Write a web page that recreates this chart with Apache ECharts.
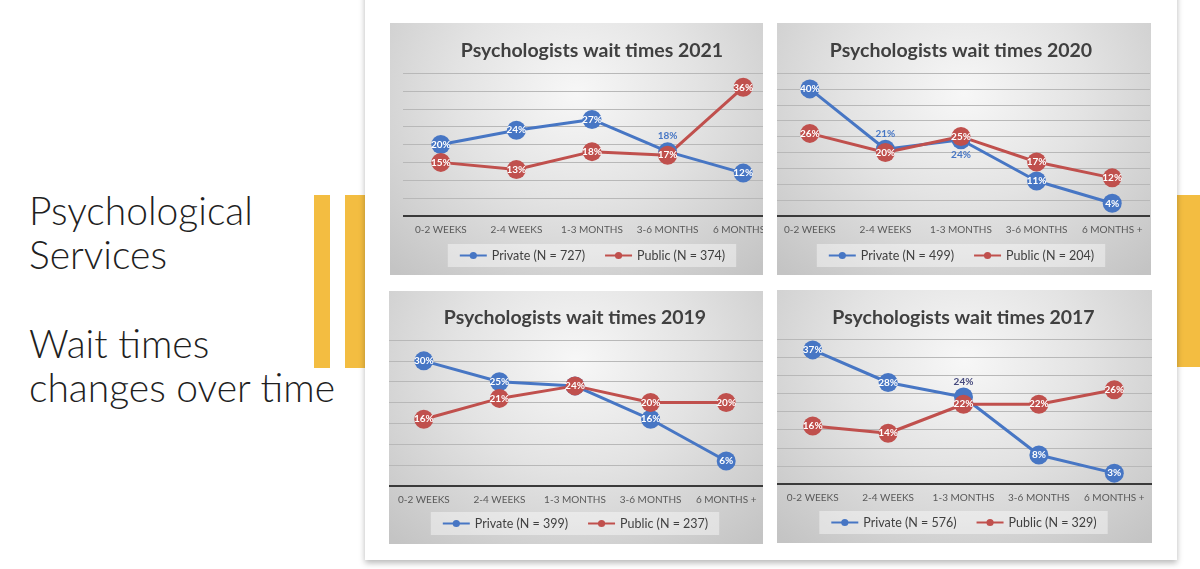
<!DOCTYPE html>
<html>
<head>
<meta charset="utf-8">
<title>Psychologists wait times</title>
<script src="https://cdn.jsdelivr.net/npm/echarts@6.0.0/dist/echarts.min.js"></script>
<style>
  html, body { margin: 0; padding: 0; background: #fff; }
  #page { position: relative; width: 1200px; height: 569px; overflow: hidden; background: #fff; font-family: Lato, sans-serif; }
  .side { position: absolute; left: 29px; font-size: 39px; line-height: 44px; font-weight: 300; color: #1f1f1f; }
  .bar { position: absolute; background: #f3bd41; }
  #card { position: absolute; left: 365px; top: -10px; width: 812px; height: 570px; background: #fff; box-shadow: 0 3px 6px rgba(0,0,0,0.28); }
  .panel { position: absolute; overflow: hidden;
    background: radial-gradient(ellipse 72% 95% at 50% 28%, #f7f7f7 0%, #e3e3e3 45%, #c4c4c4 100%); }
  .inner { position: absolute; top: 0; }
</style>
</head>
<body>
<div id="page">
  <div class="side" style="top:188px">Psychological<br>Services</div>
  <div class="side" style="top:321px">Wait times<br>changes over time</div>
  <div class="bar" style="left:314px;top:195px;width:16px;height:173px"></div>
  <div class="bar" style="left:345px;top:195px;width:20px;height:173px"></div>
  <div class="bar" style="left:1177px;top:195px;width:23px;height:172px"></div>
  <div id="card"></div>

  <div class="panel" style="left:390px;top:23px;width:373px;height:252px">
    <div class="inner" id="c2021" style="left:13px;width:378px;height:252px"></div>
  </div>
  <div class="panel" style="left:777px;top:23px;width:374px;height:252px">
    <div class="inner" id="c2020" style="left:-5px;width:378px;height:252px"></div>
  </div>
  <div class="panel" style="left:389px;top:291px;width:374px;height:253px">
    <div class="inner" id="c2019" style="left:-3px;width:378px;height:253px"></div>
  </div>
  <div class="panel" style="left:777px;top:290px;width:375px;height:253px">
    <div class="inner" id="c2017" style="left:-2px;width:377px;height:253px"></div>
  </div>
</div>

<script>
var categories = ['0-2 WEEKS', '2-4 WEEKS', '1-3 MONTHS', '3-6 MONTHS', '6 MONTHS +'];

var private2021 = [20, 24, 27, 18, 12];
var public2021  = [15, 13, 18, 17, 36];
var private2020 = [40, 21, 24, 11, 4];
var public2020  = [26, 20, 25, 17, 12];
var private2019 = [30, 25, 24, 16, 6];
var public2019  = [16, 21, 24, 20, 20];
var private2017 = [37, 28, 24, 8, 3];
var public2017  = [16, 14, 22, 22, 26];

var nPrivate = { '2021': 727, '2020': 499, '2019': 399, '2017': 576 };
var nPublic  = { '2021': 374, '2020': 204, '2019': 237, '2017': 329 };

var BLUE = '#4776c4';
var RED = '#c0504d';

// labels that Excel moved out of the marker (index -> position), or hid
function buildData(vals, special) {
  var out = [];
  for (var i = 0; i < vals.length; i++) {
    var item = { value: vals[i] };
    var s = special && special[i];
    if (s === 'hide') {
      item.label = { show: false };
    } else if (s) {
      item.label = { position: s.pos, color: s.color, distance: 1 };
    }
    out.push(item);
  }
  return out;
}

function drawChart(id, year, privVals, pubVals, max, gridTop, gridBottom, titleTop, privSpecial) {
  var chart = echarts.init(document.getElementById(id), null, { renderer: 'canvas' });
  var pointLabel = {
    show: true,
    position: 'inside',
    formatter: '{c}%',
    color: '#fff',
    fontFamily: 'Lato',
    fontWeight: 'bold',
    fontSize: 10
  };
  chart.setOption({
    animation: false,
    title: {
      text: 'Psychologists wait times ' + year,
      left: 'center',
      top: titleTop,
      textStyle: { fontFamily: 'Lato', fontWeight: 'bold', fontSize: 19.5, color: '#404040' }
    },
    legend: {
      top: 221,
      left: 'center',
      itemWidth: 27,
      itemHeight: 9,
      itemGap: 19,
      padding: [5, 11],
      backgroundColor: 'rgba(255,255,255,0.42)',
      textStyle: { fontFamily: 'Lato', fontSize: 12.5, color: '#404040' },
      data: ['Private (N = ' + nPrivate[year] + ')', 'Public (N = ' + nPublic[year] + ')']
    },
    grid: { left: 0, right: 0, top: gridTop, bottom: gridBottom },
    xAxis: {
      type: 'category',
      data: categories,
      boundaryGap: true,
      axisTick: { show: false },
      axisLine: { lineStyle: { color: '#3a3a3a', width: 2 } },
      axisLabel: { margin: 9, fontFamily: 'Lato', fontSize: 10, color: '#595959', interval: 0 }
    },
    yAxis: {
      type: 'value',
      min: 0,
      max: max,
      interval: 5,
      axisLabel: { show: false },
      axisLine: { show: false },
      axisTick: { show: false },
      splitLine: { lineStyle: { color: '#b8b8b8', width: 1 } }
    },
    series: [{
      name: 'Private (N = ' + nPrivate[year] + ')',
      type: 'line',
      data: buildData(privVals, privSpecial),
      symbol: 'circle',
      symbolSize: 19,
      color: BLUE,
      lineStyle: { width: 3, color: BLUE },
      label: pointLabel
    }, {
      name: 'Public (N = ' + nPublic[year] + ')',
      type: 'line',
      data: buildData(pubVals),
      symbol: 'circle',
      symbolSize: 19,
      color: RED,
      lineStyle: { width: 3, color: RED },
      label: pointLabel
    }]
  });
  return chart;
}

drawChart('c2021', '2021', private2021, public2021, 40, 50, 59, 13,
  { 3: { pos: 'top', color: BLUE } });
drawChart('c2020', '2020', private2020, public2020, 45, 50, 59, 13,
  { 1: { pos: 'top', color: BLUE }, 2: { pos: 'bottom', color: BLUE } });
drawChart('c2019', '2019', private2019, public2019, 35, 49, 58, 12,
  { 2: 'hide' });
drawChart('c2017', '2017', private2017, public2017, 40, 49, 59, 13,
  { 2: { pos: 'top', color: '#474b7e' } });
</script>
</body>
</html>
